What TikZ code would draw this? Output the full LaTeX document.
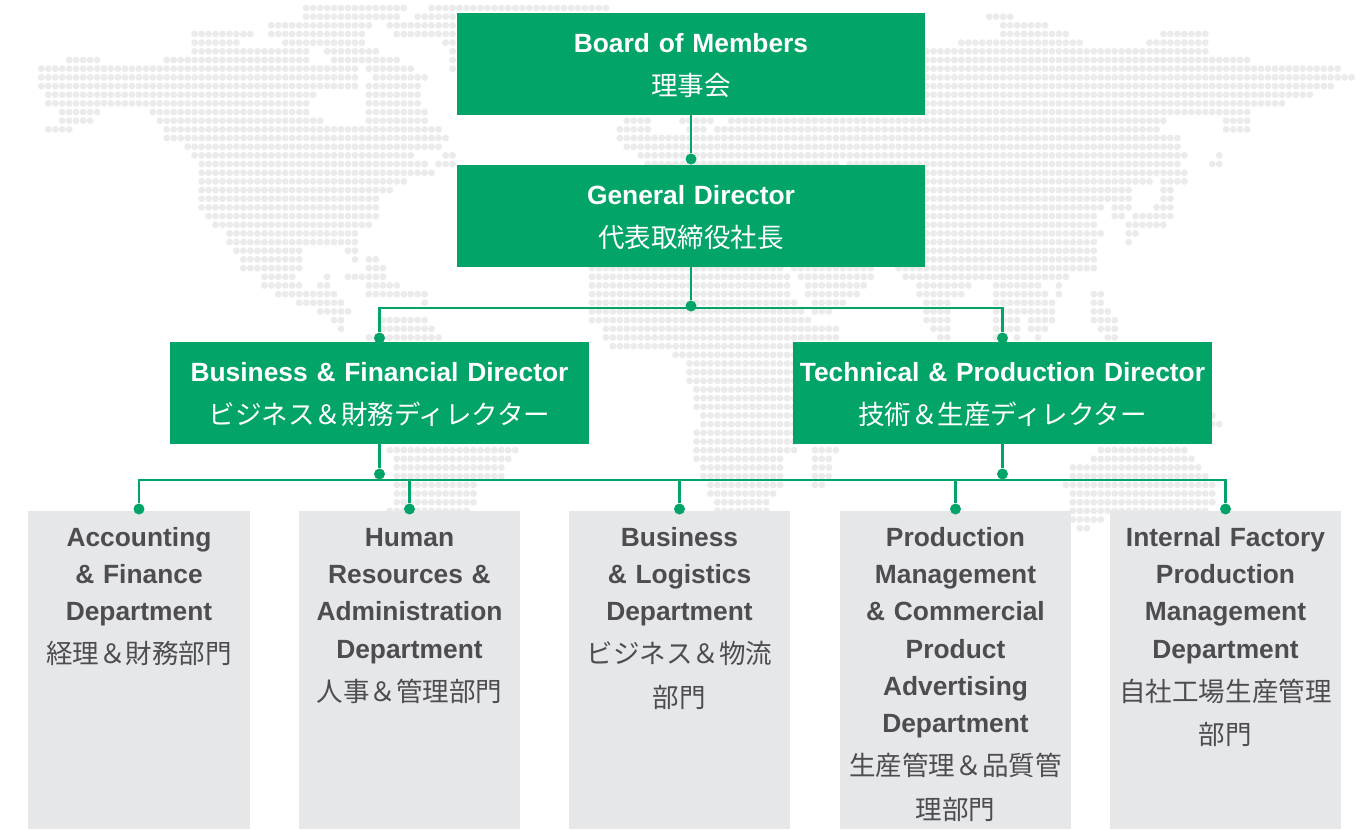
\documentclass[tikz,border=0pt]{standalone}
\usepackage{fontspec}
\setmainfont{Liberation Sans}
\newfontfamily\cjk{Noto Sans CJK JP}
\usetikzlibrary{backgrounds}
\definecolor{boxgreen}{HTML}{02A468}
\definecolor{deptgray}{HTML}{E6E7E8}
\definecolor{depttext}{HTML}{4D4D4F}
\definecolor{mapgray}{HTML}{EBEBEB}
\newcommand{\jp}[1]{\\[3.3pt]{\cjk\mdseries\fontsize{15.1}{21.26}\selectfont #1}}
\newcommand{\maprow}[2]{\foreach \first/\last in {#2}{\foreach \col in {\first,...,\last}{\fill [mapgray] (41.3+6.97*\col,8+8.67*#1) circle (3.45);}}}
\tikzset{
  orgbox/.style={inner sep=0pt,align=center,font=\fontsize{15}{21.26}\selectfont\bfseries},
  greenbox/.style={orgbox,fill=boxgreen,text=white,text height=0.78cm,text depth=1.26cm},
  deptbox/.style={orgbox,fill=deptgray,text=depttext,text height=0.70cm,text depth=5.66cm},
  joint/.style={circle,fill=boxgreen,inner sep=0pt,minimum size=0.22cm},
  link/.style={draw=boxgreen,line width=0.056cm}
}
\begin{document}
\begin{tikzpicture}[x=0.02cm,y=-0.02cm,line cap=butt,line join=miter]
      \useasboundingbox (0,0) rectangle (1370,829);
      \begin{scope}[on background layer]
      \maprow{0}{38/52,56/81}
      \maprow{1}{38/51,54/59,136/139}
      \maprow{2}{33/47,50/59,138/144}
      \maprow{3}{22/30,33/46,51/59,138/147,161/167}
      \maprow{4}{22/28,35/46,58/59,132/149,159/167}
      \maprow{5}{22/38,41/48,59/59,127/167}
      \maprow{6}{4/8,18/38,42/51,59/59,127/173}
      \maprow{7}{0/45,47/53,59/59,127/186}
      \maprow{8}{0/45,48/55,127/188}
      \maprow{9}{0/45,47/54,127/185}
      \maprow{10}{1/39,47/54,127/182}
      \maprow{11}{1/38,47/54,127/178}
      \maprow{12}{3/8,16/38,47/55,127/173}
      \maprow{13}{3/7,17/40,47/55,84/87,92/96,99/161,170/173}
      \maprow{14}{1/4,18/57,83/87,93/95,97/160,170/173}
      \maprow{15}{18/58,83/163}
      \maprow{16}{21/57,84/163}
      \maprow{17}{22/53,58/59,86/164,169/169}
      \maprow{18}{23/55,57/59,87/114,116/163,168/169}
      \maprow{19}{23/56,127/164}
      \maprow{20}{23/52,127/159,161/164}
      \maprow{21}{23/50,127/156,161/162}
      \maprow{22}{23/48,127/156,161/162}
      \maprow{23}{23/48,127/152,154/156,160/162}
      \maprow{24}{24/48,127/151,154/155,157/162}
      \maprow{25}{25/47,127/151,156/161}
      \maprow{26}{27/45,127/152,156/157}
      \maprow{27}{27/45,127/151,156/156}
      \maprow{28}{28/37,44/45,127/151}
      \maprow{29}{29/37,45/45,47/48,127/151}
      \maprow{30}{29/37,47/49,79/106,108/119,123/151}
      \maprow{31}{32/36,41/41,44/49,79/107,109/119,124/147}
      \maprow{32}{32/37,40/41,47/51,79/107,110/118,126/133,137/143,146/146}
      \maprow{33}{34/42,47/55,79/107,110/117,126/132,137/144,146/146,151/152}
      \maprow{34}{37/43,55/55,79/108,111/115,127/130,137/145,151/152}
      \maprow{35}{40/44,79/109,111/113,127/130,137/145,151/153}
      \maprow{36}{42/43,49/55,79/110,127/130,137/140,142/145,151/154}
      \maprow{37}{43/43,49/56,81/114,128/130,137/140,142/144,152/154}
      \maprow{38}{47/57,81/114,129/130,137/137,140/140,143/143,153/154}
      \maprow{39}{82/108}
      \maprow{40}{91/108}
      \maprow{41}{93/108}
      \maprow{42}{93/108}
      \maprow{43}{93/108}
      \maprow{44}{94/108}
      \maprow{45}{94/108}
      \maprow{46}{94/108}
      \maprow{47}{95/108,168/168}
      \maprow{48}{95/108,168/169}
      \maprow{49}{94/108}
      \maprow{50}{94/108}
      \maprow{51}{50/68,94/108,111/114,152/164}
      \maprow{52}{51/67,94/106,111/113,151/165}
      \maprow{53}{51/66,95/106,111/113,148/166}
      \maprow{54}{51/66,95/106,111/113,148/167}
      \maprow{55}{51/62,96/106,111/112,147/168}
      \maprow{56}{51/62,96/105,148/168}
      \maprow{57}{51/62,97/104,148/168}
      \maprow{58}{50/61,97/104,148/167}
      \maprow{59}{148/152}
      \maprow{60}{149/150}
      \end{scope}
      \node [greenbox,text width=9.36cm] (board) at (691,64) {Board of Members\jp{理事会}};
      \node [greenbox,text width=9.36cm] (general) at (691,216) {General Director\jp{代表取締役社長}};
      \node [greenbox,text width=8.38cm] (business) at (379.5,393) {Business \& Financial Director\jp{ビジネス＆財務ディレクター}};
      \node [greenbox,text width=8.38cm] (technical) at (1002.5,393) {Technical \& Production Director\jp{技術＆生産ディレクター}};
      \node [deptbox,text width=4.44cm] (accounting) at (139,670) {Accounting\\\& Finance\\Department\jp{経理＆財務部門}};
      \node [deptbox,text width=4.44cm] (human) at (409.5,670) {Human\\Resources \&\\Administration\\Department\jp{人事＆管理部門}};
      \node [deptbox,text width=4.44cm] (logistics) at (679.5,670) {Business\\\& Logistics\\Department\jp{ビジネス＆物流}\jp{部門}};
      \node [deptbox,text width=4.62cm] (production) at (955.5,670) {Production\\Management\\\& Commercial\\Product\\Advertising\\Department\jp{生産管理＆品質管}\jp{理部門}};
      \node [deptbox,text width=4.62cm] (factory) at (1225.5,670) {Internal Factory\\Production\\Management\\Department\jp{自社工場生産管理}\jp{部門}};
      \node [joint] (dotA) at (139,509) {};
      \node [joint] (dotB) at (409.5,509) {};
      \node [joint] (dotC) at (679.5,509) {};
      \node [joint] (dotD) at (955.5,509) {};
      \node [joint] (dotE) at (1225.5,509) {};
      \begin{scope}[on background layer]
      \node [joint] (dotboard) at (691,159) {};
      \node [joint] (dotgeneral) at (691,306) {};
      \node [joint] (dotbusiness) at (379.5,338) {};
      \node [joint] (dottechnical) at (1002.5,338) {};
      \node [joint] (dotleft) at (379.5,474) {};
      \node [joint] (dotright) at (1002.5,474) {};
      \coordinate (upperbus) at (691,308);
      \coordinate (lowerbus) at (691,480);
      \draw [link] (board) -- (dotboard);
      \draw [link] (general) -- (dotgeneral);
      \draw [link] (dotbusiness) |- (upperbus) -| (dottechnical);
      \draw [link] (business) -- (dotleft);
      \draw [link] (technical) -- (dotright);
      \draw [link] (dotA) |- (lowerbus) -| (dotE);
      \draw [link] (dotB) -- (dotB |- lowerbus);
      \draw [link] (dotC) -- (dotC |- lowerbus);
      \draw [link] (dotD) -- (dotD |- lowerbus);
      \end{scope}
\end{tikzpicture}
\end{document}
